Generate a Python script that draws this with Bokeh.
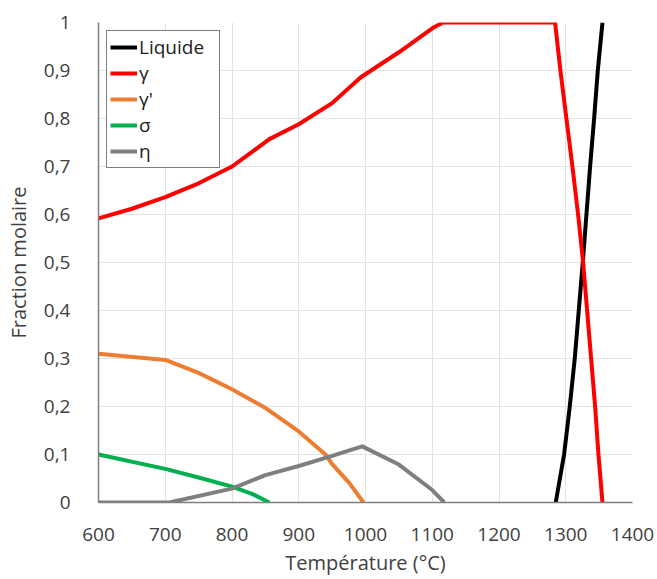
from bokeh.plotting import figure
from bokeh.models import Range1d, FixedTicker, Legend, LegendItem
from bokeh.embed import file_html
from bokeh.resources import INLINE

# ---- data ----
x_ticks = [600, 700, 800, 900, 1000, 1100, 1200, 1300, 1400]
y_ticks = [0, 0.1, 0.2, 0.3, 0.4, 0.5, 0.6, 0.7, 0.8, 0.9, 1]
y_labels = ["0", "0,1", "0,2", "0,3", "0,4", "0,5", "0,6", "0,7", "0,8", "0,9", "1"]

liquide_T = [1285, 1297.5, 1306, 1313.5, 1319.5, 1325.5, 1331, 1336.5, 1342.5, 1348, 1355]
liquide_f = [0.0, 0.1, 0.2, 0.3, 0.4, 0.5, 0.6, 0.7, 0.8, 0.9, 1.0]

gamma_T = [600, 650, 700, 750, 800, 856, 900, 950, 993, 1050, 1100, 1116,
           1284, 1292, 1301, 1310, 1318.5, 1326, 1332, 1338, 1344, 1349, 1355]
gamma_f = [0.592, 0.612, 0.636, 0.665, 0.700, 0.757, 0.788, 0.832, 0.886, 0.938, 0.988, 1.0,
           1.0, 0.9, 0.8, 0.7, 0.6, 0.5, 0.4, 0.3, 0.2, 0.1, 0.0]

gammap_T = [600, 700, 750, 800, 850, 900, 940, 950, 975, 997]
gammap_f = [0.310, 0.297, 0.270, 0.236, 0.197, 0.148, 0.100, 0.080, 0.042, 0.0]

sigma_T = [600, 700, 750, 800, 830, 856]
sigma_f = [0.100, 0.070, 0.052, 0.033, 0.018, 0.0]

eta_T = [600, 706, 800, 850, 900, 950, 995, 1050, 1100, 1118]
eta_f = [0.0, 0.0, 0.029, 0.057, 0.076, 0.097, 0.117, 0.079, 0.026, 0.0]

series = [
    ("Liquide", liquide_T, liquide_f, "#000000"),
    ("\u03b3", gamma_T, gamma_f, "#FF0000"),
    ("\u03b3'", gammap_T, gammap_f, "#ED7D31"),
    ("\u03c3", sigma_T, sigma_f, "#00B050"),
    ("\u03b7", eta_T, eta_f, "#7F7F7F"),
]

FONT = "Open Sans"
TXT = "#404040"

p = figure(width=656, height=578, x_range=Range1d(600, 1400), y_range=Range1d(0, 1),
           output_backend="svg", toolbar_location=None,
           min_border_left=98, min_border_right=24, min_border_top=22, min_border_bottom=76)
p.outline_line_color = None
p.background_fill_color = "white"
p.border_fill_color = "white"

renderers = []
for name, xs, ys, col in series:
    r = p.line(xs, ys, line_color=col, line_width=4, line_join="round")
    renderers.append((name, r))

legend = Legend(items=[LegendItem(label=n, renderers=[r]) for n, r in renderers],
                location="top_left", margin=8, padding=3, spacing=0,
                label_height=26, glyph_height=26, glyph_width=27, label_standoff=2,
                label_width=77,
                border_line_color="#000000", border_line_width=1,
                background_fill_color="white", background_fill_alpha=1.0,
                label_text_font=FONT, label_text_font_size="19px", label_text_color="#222222")
p.add_layout(legend)

p.xaxis.ticker = FixedTicker(ticks=x_ticks)
p.yaxis.ticker = FixedTicker(ticks=y_ticks)
p.yaxis.major_label_overrides = dict(zip(y_ticks, y_labels))

for ax in (p.xaxis, p.yaxis):
    ax.major_tick_line_color = None
    ax.minor_tick_line_color = None
    ax.axis_line_color = "#7F7F7F"
    ax.axis_line_width = 1.5
    ax.major_label_text_font = FONT
    ax.major_label_text_font_size = "19px"
    ax.major_label_text_color = TXT
    ax.axis_label_text_font = FONT
    ax.axis_label_text_font_size = "20px"
    ax.axis_label_text_font_style = "normal"
    ax.axis_label_text_color = TXT

p.xaxis.axis_label = "Température (°C)"
p.yaxis.axis_label = "Fraction molaire"
p.xaxis.major_label_standoff = 19
p.xaxis.axis_label_standoff = 5
p.yaxis.major_label_standoff = 22
p.yaxis.axis_label_standoff = 9

for g in (p.xgrid, p.ygrid):
    g.grid_line_color = "#E3E3E3"
    g.grid_line_width = 1

open("out.html", "w").write(file_html(p, INLINE))
